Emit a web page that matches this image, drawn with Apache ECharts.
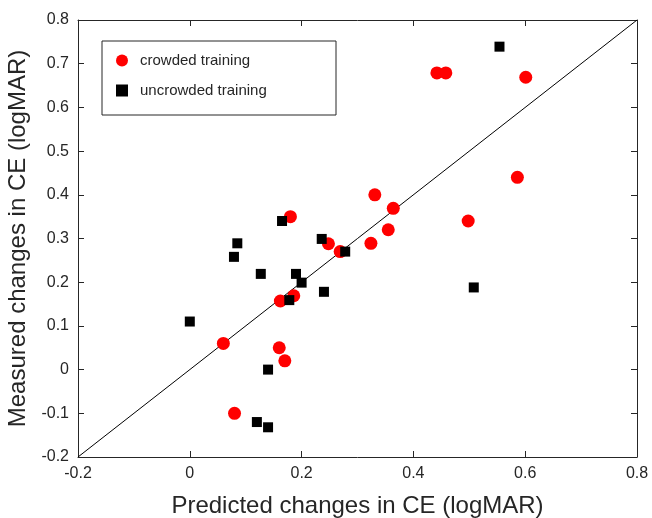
<!DOCTYPE html>
<html>
<head>
<meta charset="utf-8">
<script src="https://cdn.jsdelivr.net/npm/echarts@6/dist/echarts.min.js"></script>
<style>
    html, body { margin: 0; padding: 0; background: #fff; }
    #main { width: 652px; height: 518px; }
</style>
</head>
<body>
<div id="main"></div>
<script>
// crowded training: [predicted, measured]
var crowded = [
    [0.06, 0.06], [0.08, -0.10], [0.16, 0.05], [0.17, 0.02], [0.162, 0.157],
    [0.186, 0.169], [0.18, 0.35], [0.248, 0.288], [0.269, 0.27], [0.324, 0.289],
    [0.331, 0.40], [0.355, 0.32], [0.364, 0.369], [0.442, 0.679], [0.458, 0.679],
    [0.498, 0.34], [0.586, 0.44], [0.601, 0.669]
];
// uncrowded training
var uncrowded = [
    [0.0, 0.11], [0.079, 0.258], [0.085, 0.289], [0.127, 0.219], [0.14, 0.0],
    [0.12, -0.12], [0.14, -0.132], [0.165, 0.34], [0.178, 0.159], [0.19, 0.219],
    [0.2, 0.199], [0.236, 0.299], [0.24, 0.178], [0.278, 0.27], [0.508, 0.188],
    [0.554, 0.739]
];
// identity line
var diagonal = [[-0.2, -0.2], [0.8, 0.8]];
var legendNames = ['crowded training', 'uncrowded training'];

var axisColor = '#262626';
var font = 'Arial, "Liberation Sans", sans-serif';

var myChart = echarts.init(document.getElementById('main'));

function makeAxis(pos, show, name, gap) {
    return {
        type: 'value',
        position: pos,
        min: -0.2, max: 0.8, interval: 0.1,
        name: name || '',
        nameLocation: 'middle',
        nameGap: gap || 0,
        nameTextStyle: { color: axisColor, fontSize: 24, fontFamily: font },
        axisLine: { show: true, onZero: false, lineStyle: { color: axisColor, width: 1 } },
        axisTick: { show: true, inside: true, length: 6, lineStyle: { color: axisColor } },
        axisLabel: {
            show: show, color: axisColor, fontSize: 16, fontFamily: font, margin: 9,
            formatter: function (v) { return +v.toFixed(1) + ''; }
        },
        splitLine: { show: false }
    };
}

var option = {
    animation: false,
    backgroundColor: '#fff',
    grid: { left: 78, right: 15, top: 20, bottom: 61, containLabel: false, outerBoundsMode: 'none' },
    xAxis: [
        Object.assign(makeAxis('bottom', true, 'Predicted changes in CE (logMAR)', 37),
            { interval: 0.2 }),
        Object.assign(makeAxis('top', false), { interval: 0.2 })
    ],
    yAxis: [
        makeAxis('left', true, 'Measured changes in CE (logMAR)', 42),
        makeAxis('right', false)
    ],
    legend: {
        data: [
            { name: legendNames[0], icon: 'circle' },
            { name: legendNames[1], icon: 'rect' }
        ],
        orient: 'vertical',
        left: 111,
        top: 48,
        itemWidth: 12,
        itemHeight: 12,
        itemGap: 15,
        selectedMode: false,
        textStyle: { color: axisColor, fontSize: 15, fontFamily: font, padding: [0, 0, 0, 7] }
    },
    graphic: [{
        type: 'rect',
        shape: { x: 102, y: 41, width: 234, height: 74 },
        style: { fill: 'none', stroke: axisColor, lineWidth: 1 },
        z: 1
    }],
    series: [{
        type: 'line',
        data: diagonal,
        symbol: 'none',
        silent: true,
        lineStyle: { color: '#000', width: 1 },
        z: 1
    }, {
        name: legendNames[0],
        type: 'scatter',
        data: crowded,
        symbol: 'circle',
        symbolSize: 13,
        itemStyle: { color: '#ff0000', opacity: 1 },
        z: 2
    }, {
        name: legendNames[1],
        type: 'scatter',
        data: uncrowded,
        symbol: 'rect',
        symbolSize: 10,
        itemStyle: { color: '#000', opacity: 1 },
        z: 3
    }]
};
myChart.setOption(option);
</script>
</body>
</html>
